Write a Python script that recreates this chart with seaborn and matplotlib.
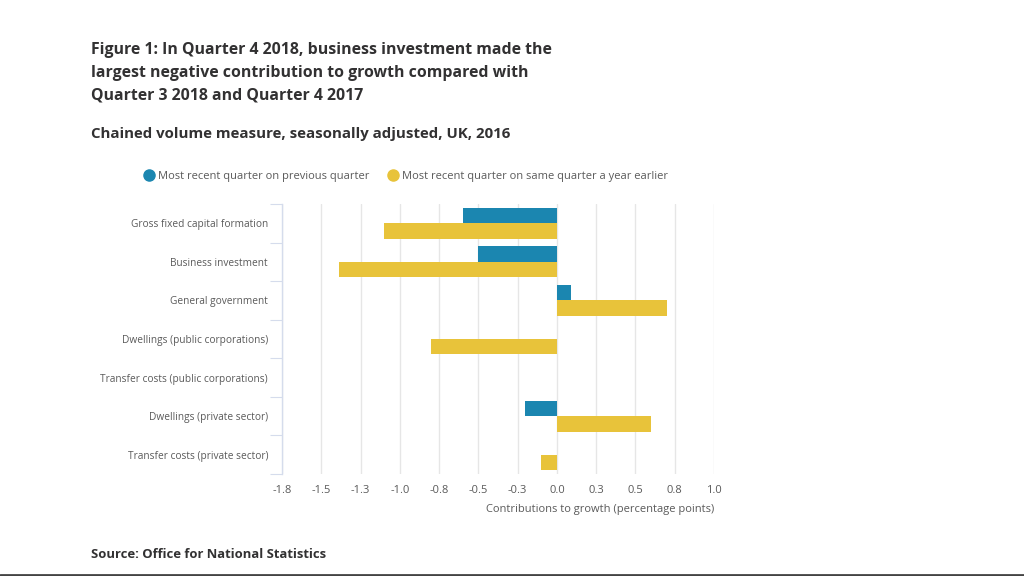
import matplotlib
matplotlib.use("Agg")
import matplotlib.pyplot as plt
from matplotlib.lines import Line2D
import numpy as np
import pandas as pd
import seaborn as sns

categories = [
    "Gross fixed capital formation",
    "Business investment",
    "General government",
    "Dwellings (public corporations)",
    "Transfer costs (public corporations)",
    "Dwellings (private sector)",
    "Transfer costs (private sector)",
]
series = [
    "Most recent quarter on previous quarter",
    "Most recent quarter on same quarter a year earlier",
]
prev_quarter = [-0.60, -0.50, 0.09, 0.0, 0.0, -0.20, 0.0]
year_earlier = [-1.10, -1.39, 0.70, -0.80, 0.0, 0.60, -0.10]
tick_values = [-1.75, -1.5, -1.25, -1.0, -0.75, -0.5, -0.25, 0.0, 0.25, 0.5, 0.75, 1.0]
tick_labels = ["-1.8", "-1.5", "-1.3", "-1.0", "-0.8", "-0.5", "-0.3", "0.0", "0.3", "0.5", "0.8", "1.0"]

BLUE = "#1b86b0"
YELLOW = "#e8c33a"
TEXT = "#323132"
GREY = "#5a5a5a"

df = pd.DataFrame({
    "Component": categories * 2,
    "Contribution": prev_quarter + year_earlier,
    "Measure": [series[0]] * len(categories) + [series[1]] * len(categories),
})

sns.set_theme(style="white")
plt.rcParams["font.family"] = ["Open Sans", "DejaVu Sans"]

W, H = 1024, 576
fig = plt.figure(figsize=(W / 100, H / 100), dpi=100)
left, right, top, bottom = 282, 714, 204, 474
ax = fig.add_axes([left / W, 1 - bottom / H, (right - left) / W, (bottom - top) / H])

sns.barplot(data=df, y="Component", x="Contribution", hue="Measure",
            hue_order=series, order=categories, palette=[BLUE, YELLOW],
            orient="h", width=0.8, saturation=1, errorbar=None,
            legend=False, ax=ax, linewidth=0)

ax.set_xlim(-1.75, 1.0)
ax.set_ylim(len(categories) - 0.5, -0.5)
ax.set_xticks(tick_values)
ax.set_xticklabels(tick_labels)
ax.grid(axis="x", color="#e6e6e6", linewidth=1)
ax.grid(axis="y", visible=False)
ax.set_axisbelow(True)
for s in ["top", "right", "bottom"]:
    ax.spines[s].set_visible(False)
ax.spines["left"].set_color("#d5dcec")
ax.spines["left"].set_linewidth(1)
ax.set_yticks(np.arange(-0.5, len(categories), 1.0), minor=True)
ax.tick_params(axis="y", which="minor", left=True, length=9, color="#d5dcec", width=0.8)
ax.tick_params(axis="y", which="major", left=False, length=0, pad=10, labelsize=7.3, labelcolor=GREY)
for lbl in ax.get_yticklabels():
    lbl.set_va("center_baseline")
ax.tick_params(axis="x", length=0, pad=8, labelsize=8, labelcolor=GREY)
ax.set_ylabel("")
ax.set_xlabel("Contributions to growth (percentage points)", fontsize=8, color=GREY,
              loc="right", labelpad=6)

fig.text(91 / W, 1 - 42 / H,
         "Figure 1: In Quarter 4 2018, business investment made the\n"
         "largest negative contribution to growth compared with\n"
         "Quarter 3 2018 and Quarter 4 2017",
         ha="left", va="top", fontsize=11.4, fontweight="bold", color=TEXT, linespacing=1.55)
fig.text(91 / W, 1 - 134 / H, "Chained volume measure, seasonally adjusted, UK, 2016",
         ha="left", va="center", fontsize=10.8, fontweight="bold", color=TEXT)
fig.text(91 / W, 1 - 554 / H, "Source: Office for National Statistics",
         ha="left", va="center", fontsize=9.4, fontweight="bold", color=TEXT)

handles = [Line2D([0], [0], marker="o", linestyle="", markersize=8,
                  markerfacecolor=c, markeredgecolor=c) for c in (BLUE, YELLOW)]
fig.legend(handles, series, loc="center", bbox_to_anchor=(405 / W, 1 - 176 / H),
           ncol=2, frameon=False, fontsize=8, labelcolor=GREY,
           handletextpad=0.2, columnspacing=1.5, handlelength=1.2)

fig.add_artist(Line2D([0, 1], [1.5 / H, 1.5 / H], transform=fig.transFigure,
                      color="#444444", linewidth=2))

fig.savefig("out.png", dpi=100, facecolor="white")
